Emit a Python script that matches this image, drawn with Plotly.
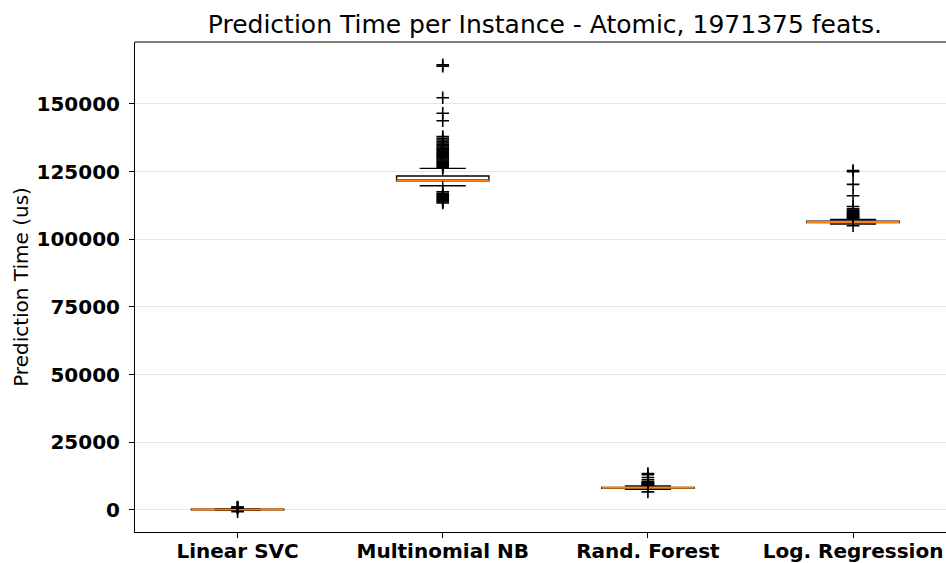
import plotly.graph_objects as go

categories = ["Linear SVC", "Multinomial NB", "Rand. Forest", "Log. Regression"]
positions = [1, 2, 3, 4]

q1 = [100, 121650, 8050, 106200]
median = [150, 121850, 8200, 106400]
q3 = [250, 123400, 8350, 106700]
lower_fence = [-100, 119800, 7600, 105600]
upper_fence = [500, 126200, 8900, 107300]

outliers_svc = [-600, 700, 800, 900, 1000, 1100]
outliers_mnb = [113400, 113800, 114200, 114600, 115000, 115400, 115800, 116200, 116600, 117000, 117600,
                126500, 126900, 127300, 127700, 128100, 128500, 128900, 129300, 129700, 130100,
                130500, 130900, 131300, 131700, 132100, 132500, 132900, 133300, 133700, 134100,
                134600, 135100, 135600, 136100, 136700, 137300, 138000, 143800, 146600, 152300,
                164000, 164500]
outliers_rf = [6700, 9100, 9300, 9500, 9700, 9900, 10100, 10300, 10500, 11200, 12000, 13000, 13500]
outliers_lr = [105000, 107600, 107900, 108200, 108500, 108800, 109100, 109400, 109700, 110000,
               110400, 110800, 111300, 112100, 116100, 120300, 125000, 125400]
all_outliers = [outliers_svc, outliers_mnb, outliers_rf, outliers_lr]

y_ticks = [0, 25000, 50000, 75000, 100000, 125000, 150000]

fig = go.Figure()

fig.add_trace(go.Box(
    x=positions, q1=q1, median=median, q3=q3,
    lowerfence=lower_fence, upperfence=upper_fence,
    width=0.45, whiskerwidth=0.5,
    line=dict(color="black", width=1.4),
    fillcolor="rgba(255,255,255,0)",
    boxpoints=False, showlegend=False, hoverinfo="skip",
))

fig.add_trace(go.Box(
    x=positions, q1=median, median=median, q3=median,
    lowerfence=median, upperfence=median,
    width=0.45, whiskerwidth=0,
    line=dict(color="#ff7f0e", width=2),
    fillcolor="rgba(255,255,255,0)",
    boxpoints=False, showlegend=False, hoverinfo="skip",
))

for pos, vals in zip(positions, all_outliers):
    fig.add_trace(go.Scatter(
        x=[pos] * len(vals), y=vals, mode="markers",
        marker=dict(symbol="cross-thin", size=9, line=dict(color="black", width=1.6)),
        showlegend=False, hoverinfo="skip",
    ))

fig.add_shape(type="line", xref="paper", yref="paper", x0=0, x1=1, y0=1, y1=1,
              line=dict(color="black", width=1))

fig.update_layout(
    width=946, height=563,
    margin=dict(l=135, r=0, t=42, b=31),
    paper_bgcolor="white", plot_bgcolor="white",
    boxmode="overlay",
    title=dict(text="Prediction Time per Instance - Atomic, 1971375 feats.",
               x=0.5055, xanchor="center", xref="paper", y=0.957, yanchor="middle",
               font=dict(family="DejaVu Sans", size=25, color="black")),
    font=dict(family="DejaVu Sans", color="black"),
)

fig.update_xaxes(
    range=[0.5, 4.453], tickmode="array", tickvals=positions, ticktext=categories,
    showgrid=False, zeroline=False, showline=True, linecolor="black", linewidth=1,
    ticks="outside", ticklen=5, tickcolor="black", ticklabelstandoff=-4,
    automargin=False,
    tickfont=dict(family="DejaVu Sans", size=20, color="black", weight="bold"),
)

fig.update_yaxes(
    range=[-8130, 172900], tickmode="array", tickvals=y_ticks,
    ticktext=[str(v) for v in y_ticks],
    showgrid=True, gridcolor="#e6e6e6", gridwidth=1, zeroline=False,
    showline=True, linecolor="black", linewidth=1,
    ticks="outside", ticklen=5, tickcolor="black", ticklabelstandoff=5,
    tickfont=dict(family="DejaVu Sans", size=20, color="black", weight="bold"),
    title=dict(text="Prediction Time (us)", font=dict(family="DejaVu Sans", size=20, color="black"),
               standoff=2),
)

fig.write_html("out.html")
